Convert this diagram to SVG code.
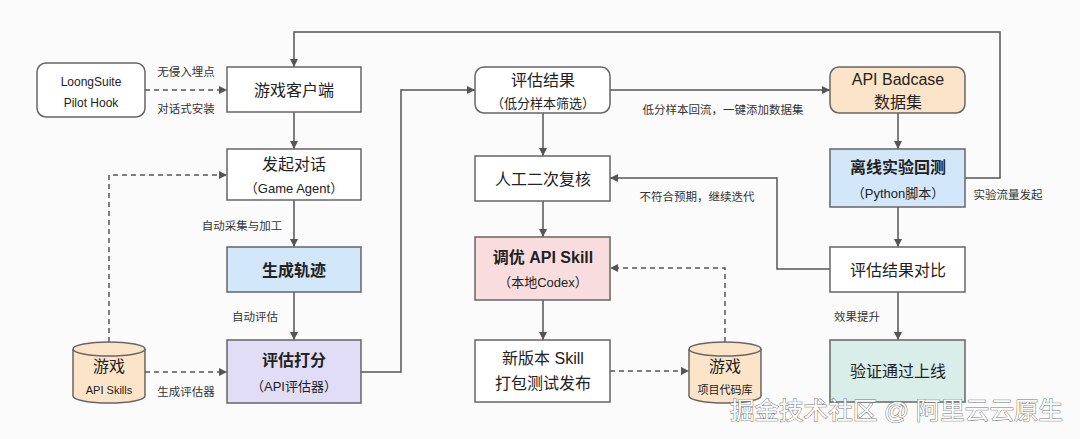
<svg xmlns="http://www.w3.org/2000/svg" width="1080" height="439" viewBox="0 0 1080 439">
<defs>
<marker id="ah" viewBox="0 0 10 10" refX="10" refY="5" markerWidth="8" markerHeight="8" markerUnits="userSpaceOnUse" orient="auto"><path d="M0,0 L10,5 L0,10 z" fill="#555"/></marker>
</defs>
<style>
text{font-family:"Liberation Sans","Noto Sans CJK SC",sans-serif;fill:#222;text-anchor:middle;}
.box{stroke:#666;stroke-width:1.5;}
.t16{font-size:16px;}
.t13{font-size:13px;}
.t12{font-size:12px;}
.t11{font-size:11px;}
.b{font-weight:bold;}
.ln{fill:none;stroke:#555;stroke-width:1.5;marker-end:url(#ah);}
.dl{fill:none;stroke:#555;stroke-width:1.5;stroke-dasharray:5,4;marker-end:url(#ah);}
.lbl{font-size:11.5px;fill:#333;}
.wm{font-size:24px;fill:#fff;stroke:#777;stroke-width:1;paint-order:stroke;text-anchor:start;}
</style>
<rect width="1080" height="439" fill="#fbfbfb"/>
<g id="connectors">
<path class="dl" d="M145,90 H227"/>
<path class="ln" d="M294,112 V149"/>
<path class="dl" d="M109,342 V175 H227"/>
<path class="ln" d="M294,200 V247"/>
<path class="ln" d="M294,292 V340"/>
<path class="dl" d="M145,372 H227"/>
<path class="ln" d="M361,372 H401 V90 H475"/>
<path class="ln" d="M543,113 V156"/>
<path class="ln" d="M543,201 V237"/>
<path class="ln" d="M543,300 V340"/>
<path class="dl" d="M610,371 H689"/>
<path class="dl" d="M725,342 V268 H610"/>
<path class="ln" d="M610,90 H830"/>
<path class="ln" d="M898,113 V149"/>
<path class="ln" d="M965,178 H1000 V32 H294 V67"/>
<path class="ln" d="M898,207 V247"/>
<path class="ln" d="M830,269 H777 V178 H610"/>
<path class="ln" d="M898,292 V340"/>
<text class="lbl" x="186" y="76">无侵入埋点</text>
<text class="lbl" x="186" y="113">对话式安装</text>
<text class="lbl" x="242" y="230">自动采集与加工</text>
<text class="lbl" x="255" y="321">自动评估</text>
<text class="lbl" x="186" y="396">生成评估器</text>
<text class="lbl" x="723" y="114">低分样本回流，一键添加数据集</text>
<text class="lbl" x="697" y="201">不符合预期，继续迭代</text>
<text class="lbl" x="1008" y="199">实验流量发起</text>
<text class="lbl" x="857" y="321">效果提升</text>
</g>
<g id="n-loongsuite">
<rect class="box" x="37" y="63" width="108" height="54" rx="9" fill="#fff"/>
<text class="t12" x="91" y="86">LoongSuite</text>
<text class="t12" x="91" y="107">Pilot Hook</text>
</g>
<g id="n-client">
<rect class="box" x="227" y="67" width="134" height="45" fill="#fff"/>
<text class="t16" x="294" y="96">游戏客户端</text>
</g>
<g id="n-dialog">
<rect class="box" x="227" y="149" width="134" height="51" fill="#fff"/>
<text class="t16" x="294" y="170">发起对话</text>
<text class="t13" x="294" y="193">（Game Agent）</text>
</g>
<g id="n-trace">
<rect class="box" x="227" y="247" width="134" height="45" fill="#d3e7fa"/>
<text class="t16 b" x="294" y="276">生成轨迹</text>
</g>
<g id="n-score">
<rect class="box" x="227" y="340" width="134" height="63" fill="#e2ddf6"/>
<text class="t16 b" x="294" y="366">评估打分</text>
<text class="t13" x="294" y="391">（API评估器）</text>
</g>
<g id="n-skills">
<path class="box" d="M73,349 V396 A36,7 0 0 0 145,396 V349" fill="#fce4c8"/>
<ellipse class="box" cx="109" cy="349" rx="36" ry="7" fill="#fce4c8"/>
<text class="t16" x="109" y="372">游戏</text>
<text class="t11" x="109" y="394">API Skills</text>
</g>
<g id="n-result">
<rect class="box" x="475" y="67" width="135" height="46" rx="9" fill="#fff"/>
<text class="t16" x="543" y="86">评估结果</text>
<text class="t13" x="543" y="108">（低分样本筛选）</text>
</g>
<g id="n-review">
<rect class="box" x="475" y="156" width="135" height="45" fill="#fff"/>
<text class="t16" x="543" y="185">人工二次复核</text>
</g>
<g id="n-tune">
<rect class="box" x="475" y="237" width="135" height="63" fill="#f9dcdd"/>
<text class="t16 b" x="543" y="263">调优 API Skill</text>
<text class="t13" x="543" y="287">（本地Codex）</text>
</g>
<g id="n-release">
<rect class="box" x="475" y="340" width="135" height="62" fill="#fff"/>
<text class="t16" x="543" y="364">新版本 Skill</text>
<text class="t16" x="543" y="389">打包测试发布</text>
</g>
<g id="n-repo">
<path class="box" d="M689,349 V396 A36,7 0 0 0 761,396 V349" fill="#fce4c8"/>
<ellipse class="box" cx="725" cy="349" rx="36" ry="7" fill="#fce4c8"/>
<text class="t16" x="725" y="372">游戏</text>
<text class="t11" x="725" y="394">项目代码库</text>
</g>
<g id="n-badcase">
<rect class="box" x="830" y="67" width="135" height="46" rx="9" fill="#fce4c8"/>
<text class="t16" x="898" y="85">API Badcase</text>
<text class="t16" x="898" y="108">数据集</text>
</g>
<g id="n-offline">
<rect class="box" x="830" y="149" width="135" height="58" fill="#d3e7fa"/>
<text class="t16 b" x="898" y="173">离线实验回测</text>
<text class="t13" x="898" y="198">（Python脚本）</text>
</g>
<g id="n-compare">
<rect class="box" x="830" y="247" width="135" height="45" fill="#fff"/>
<text class="t16" x="898" y="276">评估结果对比</text>
</g>
<g id="n-online">
<rect class="box" x="830" y="340" width="135" height="62" fill="#d9eee9"/>
<text class="t16" x="898" y="377">验证通过上线</text>
</g>
<text class="wm" x="730" y="419" textLength="333" lengthAdjust="spacingAndGlyphs">掘金技术社区 @ 阿里云云原生</text>
</svg>
